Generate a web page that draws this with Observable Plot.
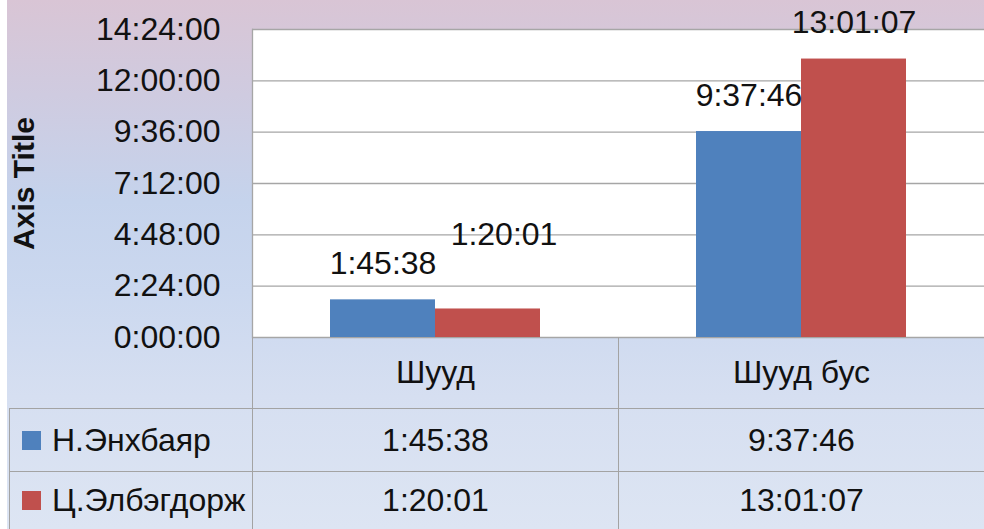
<!DOCTYPE html>
<html>
<head>
<meta charset="utf-8">
<script src="https://cdn.jsdelivr.net/npm/d3@7"></script>
<script src="https://cdn.jsdelivr.net/npm/@observablehq/plot@0.6"></script>
<style>
  html, body { margin: 0; padding: 0; background: #fff; }
  #wrap { position: relative; width: 984px; height: 529px; overflow: hidden; font-family: "Liberation Sans", Arial, sans-serif; }
  #bg { position: absolute; left: 7px; top: 0; right: 0; bottom: 0;
        background: linear-gradient(to bottom, #d9c5d5 0%, #cfcbe0 18%, #c5d3ec 38%, #cbd8ef 55%, #d6dff1 75%, #dde5f3 100%); }
  #chart { position: absolute; left: 0; top: 0; }
  #chart svg { overflow: visible; }
  #chart [aria-label="y-axis label"] text { font-weight: bold; font-size: 30px; }
  #table { position: absolute; left: 9px; top: 337px; display: grid;
           grid-template-columns: 243px 366px 366px; grid-template-rows: 71px 63px 58px;
           font-size: 32px; color: #111; }
  #table div { display: flex; align-items: center; justify-content: center; box-sizing: border-box; white-space: nowrap; }
  #table .hd { border-left: 1px solid #a3a3a3; }
  #table .cell { border-left: 1px solid #a3a3a3; border-top: 1px solid #a3a3a3; }
  #table .lg { justify-content: flex-start; border-left: 1px solid #a3a3a3; border-top: 1px solid #a3a3a3; padding-left: 12px; }
  #table .sw { display: inline-block; width: 19px; height: 19px; margin-right: 11px; flex: none; }
</style>
</head>
<body>
<div id="wrap">
  <div id="bg"></div>
  <div id="chart"></div>
  <div id="table"></div>
</div>
<script>
// ---- data ----
const categories = ["Шууд", "Шууд бус"];
const seriesNames = ["Н.Энхбаяр", "Ц.Элбэгдорж"];
const seriesColors = ["#4F81BD", "#C0504D"];
// values in seconds: 1:45:38, 1:20:01 / 9:37:46, 13:01:07
const enkhbayar = [6338, 34666];
const elbegdorj = [4801, 46867];
const yTicks = [0, 8640, 17280, 25920, 34560, 43200, 51840];
const axisTitle = "Axis Title";

const seriesValues = [enkhbayar, elbegdorj];
const fmt = s => {
  const h = Math.floor(s / 3600), m = Math.floor((s % 3600) / 60), sec = s % 60;
  return `${h}:${String(m).padStart(2, "0")}:${String(sec).padStart(2, "0")}`;
};

const data = [];
categories.forEach((c, ci) => seriesNames.forEach((s, si) => {
  data.push({cat: c, series: s, value: seriesValues[si][ci]});
}));
const isShifted = d => d.cat === categories[0] && d.series === seriesNames[1];

const plot = Plot.plot({
  width: 984,
  height: 529,
  marginTop: 29,
  marginBottom: 192,
  marginLeft: 252,
  marginRight: 0,
  style: {background: "transparent", fontFamily: "Liberation Sans, Arial, sans-serif", fontSize: "32px", color: "#111"},
  fx: {domain: categories, padding: 0, axis: null},
  x: {domain: seriesNames, paddingInner: 0, paddingOuter: 0.74, axis: null},
  y: {domain: [0, 51840], ticks: yTicks},
  color: {domain: seriesNames, range: seriesColors},
  marks: [
    Plot.frame({fill: "white", stroke: "white"}),
    Plot.gridY(yTicks, {stroke: "#a6a6a6", strokeOpacity: 1, strokeWidth: 1.3}),
    Plot.frame({anchor: "left", stroke: "#a6a6a6", strokeWidth: 1.3, facetAnchor: "left"}),
    Plot.barY(data, {fx: "cat", x: "series", y: "value", fill: "series"}),
    Plot.text(data.filter(d => !isShifted(d)), {fx: "cat", x: "series", y: "value", text: d => fmt(d.value), lineAnchor: "bottom", dy: -26, fill: "#111", fontSize: 32}),
    Plot.text(data.filter(isShifted), {fx: "cat", x: "series", y: "value", text: d => fmt(d.value), lineAnchor: "bottom", dy: -64, dx: 16, fill: "#111", fontSize: 32}),
    Plot.axisY(yTicks, {tickFormat: fmt, tickSize: 0, tickPadding: 32, fontSize: 32, label: axisTitle, labelAnchor: "center", labelOffset: 240, labelArrow: "none"})
  ]
});
document.getElementById("chart").appendChild(plot);

// ---- data table ----
const table = document.getElementById("table");
const mk = (cls, html) => { const d = document.createElement("div"); d.className = cls; d.innerHTML = html; table.appendChild(d); return d; };
mk("", "");
categories.forEach(c => mk("hd", c));
seriesNames.forEach((s, si) => {
  const lg = mk("lg", "");
  const sw = document.createElement("span"); sw.className = "sw"; sw.style.background = seriesColors[si];
  lg.appendChild(sw);
  lg.appendChild(document.createTextNode(s));
  categories.forEach((c, ci) => mk("cell", fmt(seriesValues[si][ci])));
});
</script>
</body>
</html>
